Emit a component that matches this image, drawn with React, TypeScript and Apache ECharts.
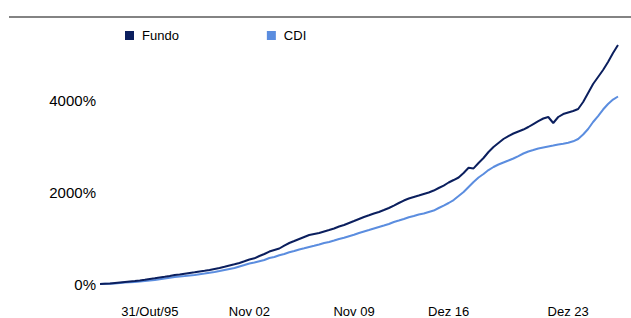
import React, { useEffect, useRef } from "react";
import * as echarts from "echarts";

const seriesNames = ["Fundo", "CDI"];

const fundoValues = [
  0, 7, 11, 22, 33, 44, 55, 65, 76, 92,
  109, 124, 142, 157, 174, 196, 207, 225, 240, 255,
  273, 288, 305, 327, 349, 375, 403, 429, 458, 495,
  534, 560, 610, 654, 708, 741, 774, 839, 894, 937,
  981, 1025, 1068, 1090, 1112, 1145, 1177, 1210, 1254, 1286,
  1330, 1373, 1417, 1461, 1498, 1537, 1570, 1613, 1657, 1711,
  1766, 1820, 1864, 1897, 1929, 1962, 1995, 2038, 2093, 2147,
  2213, 2267, 2322, 2420, 2535, 2520, 2638, 2747, 2878, 2987,
  3074, 3161, 3226, 3281, 3325, 3368, 3423, 3488, 3553, 3608,
  3641, 3510, 3641, 3706, 3739, 3771, 3815, 3968, 4164, 4360,
  4513, 4665, 4840, 5036, 5210,
];

const cdiValues = [
  0, 4, 8, 13, 22, 31, 37, 44, 55, 65,
  76, 87, 105, 120, 135, 153, 164, 174, 185, 196,
  214, 229, 246, 262, 283, 305, 327, 349, 382, 414,
  447, 469, 497, 523, 567, 589, 626, 654, 691, 719,
  752, 778, 807, 833, 861, 894, 916, 948, 981, 1007,
  1042, 1073, 1112, 1145, 1177, 1210, 1243, 1275, 1308, 1352,
  1384, 1417, 1454, 1482, 1515, 1537, 1570, 1602, 1657, 1711,
  1766, 1831, 1918, 2006, 2115, 2224, 2322, 2398, 2485, 2551,
  2605, 2649, 2692, 2736, 2790, 2845, 2889, 2921, 2954, 2976,
  2998, 3019, 3041, 3059, 3080, 3111, 3161, 3259, 3379, 3532,
  3662, 3804, 3924, 4022, 4088,
];

const tickLabels = ["31/Out/95", "Nov 02", "Nov 09", "Dez 16", "Dez 23"];
const tickIndices = [10, 30, 51, 70, 94];

const yTicks = { min: 0, max: 6000, interval: 2000 };

const colors = ["#0b1f5e", "#5b8ddf"];
const FONT = "'Liberation Sans', Arial, sans-serif";

export default function App() {
  const ref = useRef<HTMLDivElement>(null);

  useEffect(() => {
    if (!ref.current) return;
    const chart = echarts.init(ref.current, null, { renderer: "svg" });
    const categories = fundoValues.map((_, i) => String(i));
    const labelFor = (i: number) => {
      const k = tickIndices.indexOf(i);
      return k >= 0 ? tickLabels[k] : "";
    };
    chart.setOption({
      animation: false,
      backgroundColor: "#ffffff",
      color: colors,
      textStyle: { fontFamily: FONT },
      grid: { left: 100, right: 13, top: 8.8, bottom: 34, containLabel: false },
      legend: {
        data: seriesNames,
        left: 120,
        top: 24,
        icon: "rect",
        itemWidth: 9,
        itemHeight: 9,
        itemGap: 88,
        textStyle: { fontSize: 13, color: "#000", fontFamily: FONT, padding: [0, 0, 0, 3] },
      },
      xAxis: {
        type: "category",
        data: categories,
        boundaryGap: false,
        axisLine: { show: false },
        axisTick: { show: false },
        splitLine: { show: false },
        axisLabel: {
          interval: (i: number) => tickIndices.indexOf(i) >= 0,
          formatter: (_v: string, i: number) => labelFor(i),
          fontSize: 13,
          color: "#000",
          fontFamily: FONT,
          margin: 21,
        },
      },
      yAxis: {
        type: "value",
        min: yTicks.min,
        max: yTicks.max,
        interval: yTicks.interval,
        axisLine: { show: false },
        axisTick: { show: false },
        splitLine: { show: false },
        axisLabel: {
          formatter: (v: number) => String(v) + "%",
          fontSize: 15,
          color: "#000",
          fontFamily: FONT,
          margin: 4,
          showMaxLabel: false,
        },
      },
      graphic: [
        {
          type: "line",
          shape: { x1: 9, y1: 17, x2: 631, y2: 17 },
          style: { stroke: "#5a5a5a", lineWidth: 1.5 },
        },
      ],
      series: [
        {
          name: seriesNames[0],
          type: "line",
          data: fundoValues,
          showSymbol: false,
          lineStyle: { width: 2, color: colors[0] },
          z: 3,
        },
        {
          name: seriesNames[1],
          type: "line",
          data: cdiValues,
          showSymbol: false,
          lineStyle: { width: 2, color: colors[1] },
          z: 2,
        },
      ],
    });
    return () => chart.dispose();
  }, []);

  return (
    <div
      ref={ref}
      style={{ position: "fixed", left: 0, top: 0, width: 631, height: 318 }}
    />
  );
}
